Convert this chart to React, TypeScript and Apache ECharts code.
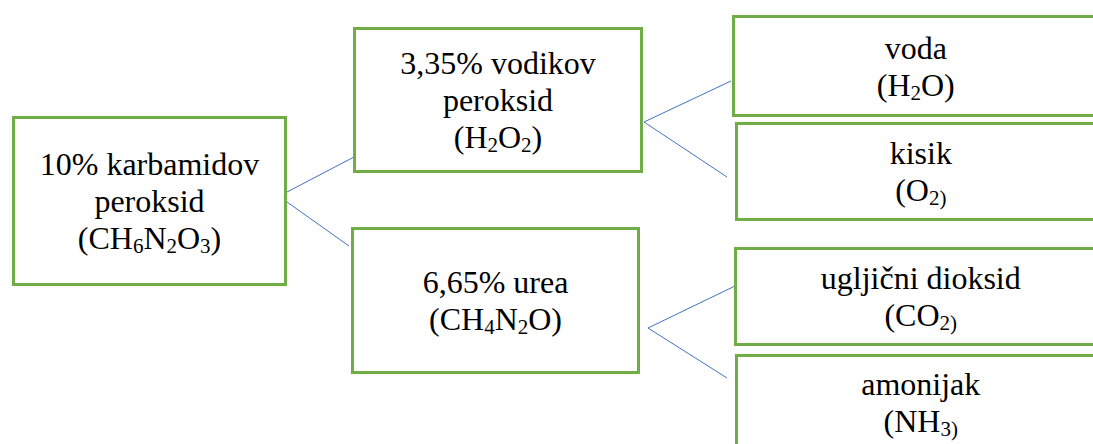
import React, { useEffect, useRef } from "react";
import * as echarts from "echarts";

// Node texts; "{x}" marks a subscript run
const nodeLabels: string[][] = [
  ["10% karbamidov", "peroksid", "(CH{6}N{2}O{3})"],
  ["3,35% vodikov", "peroksid", "(H{2}O{2})"],
  ["6,65% urea", "(CH{4}N{2}O)"],
  ["voda", "(H{2}O)"],
  ["kisik", "(O{2)}"],
  ["ugljični dioksid", "(CO{2)}"],
  ["amonijak", "(NH{3)}"],
];

// Box layout in diagram units [x0, y0, x1, y1]
const boxLayout: number[][] = [
  [13.5, 117.5, 285.5, 284.5],
  [354.5, 28.5, 641.5, 171.5],
  [352.5, 228.5, 638.5, 372.5],
  [733.5, 16.5, 1098, 115.5],
  [736.5, 123.5, 1105, 219.5],
  [735.5, 248.5, 1106, 344.5],
  [736.5, 355.5, 1105, 450],
];

// Connector segments [[x1, y1], [x2, y2]]
const connectors: number[][][] = [
  [[287, 192], [354, 157]],
  [[287, 202], [349, 246]],
  [[644, 122], [731, 81]],
  [[644, 122], [727, 177]],
  [[648, 328], [735, 286]],
  [[648, 328], [727, 378]],
];

const FAMILY = "Liberation Serif";

function toRich(line: string): string {
  let out = "";
  const re = /\{([^}]*)\}|([^{]+)/g;
  let m: RegExpExecArray | null;
  while ((m = re.exec(line)) !== null) {
    if (m[1] !== undefined) out += "{s|" + m[1] + "}";
    else out += "{n|" + m[2] + "}";
  }
  return out;
}

export default function App() {
  const ref = useRef<HTMLDivElement>(null);
  useEffect(() => {
    if (!ref.current) return;
    const chart = echarts.init(ref.current, undefined, { renderer: "svg" });
    const boxData = boxLayout.map((b, i) => ({
      value: b,
      label: nodeLabels[i].map(toRich).join("\n"),
    }));
    chart.setOption({
      animation: false,
      textStyle: { fontFamily: FAMILY },
      grid: { left: 0, right: 0, top: 0, bottom: 0 },
      xAxis: { type: "value", min: 0, max: 1093, show: false },
      yAxis: { type: "value", min: 0, max: 444, inverse: true, show: false },
      series: [
        {
          type: "lines",
          coordinateSystem: "cartesian2d",
          polyline: false,
          silent: true,
          lineStyle: { color: "#4472C4", width: 1, opacity: 1 },
          data: connectors.map((c) => ({ coords: c })),
          z: 1,
        },
        {
          type: "custom",
          coordinateSystem: "cartesian2d",
          clip: false,
          z: 2,
          data: boxData,
          renderItem: (params: any, api: any) => {
            const b = boxLayout[params.dataIndex];
            const p0 = api.coord([b[0], b[1]]);
            const p1 = api.coord([b[2], b[3]]);
            const x = Math.min(p0[0], p1[0]);
            const y = Math.min(p0[1], p1[1]);
            const w = Math.abs(p1[0] - p0[0]);
            const h = Math.abs(p1[1] - p0[1]);
            return {
              type: "group",
              children: [
                {
                  type: "rect",
                  shape: { x, y, width: w, height: h },
                  style: { fill: "#ffffff", stroke: "#70AD47", lineWidth: 3 },
                },
                {
                  type: "text",
                  x: x + w / 2,
                  y: y + h / 2,
                  style: {
                    text: boxData[params.dataIndex].label,
                    align: "center",
                    verticalAlign: "middle",
                    fill: "#000000",
                    fontFamily: FAMILY,
                    fontSize: 32,
                    rich: {
                      n: {
                        fontSize: 32,
                        fontFamily: FAMILY,
                        lineHeight: 37,
                        fill: "#000000",
                      },
                      s: {
                        fontSize: 21,
                        fontFamily: FAMILY,
                        lineHeight: 27,
                        verticalAlign: "bottom",
                        fill: "#000000",
                      },
                    },
                  },
                },
              ],
            };
          },
        },
      ],
    });
    return () => chart.dispose();
  }, []);
  return (
    <div
      ref={ref}
      style={{ position: "fixed", left: 0, top: 0, width: 1093, height: 444, background: "#ffffff" }}
    />
  );
}
